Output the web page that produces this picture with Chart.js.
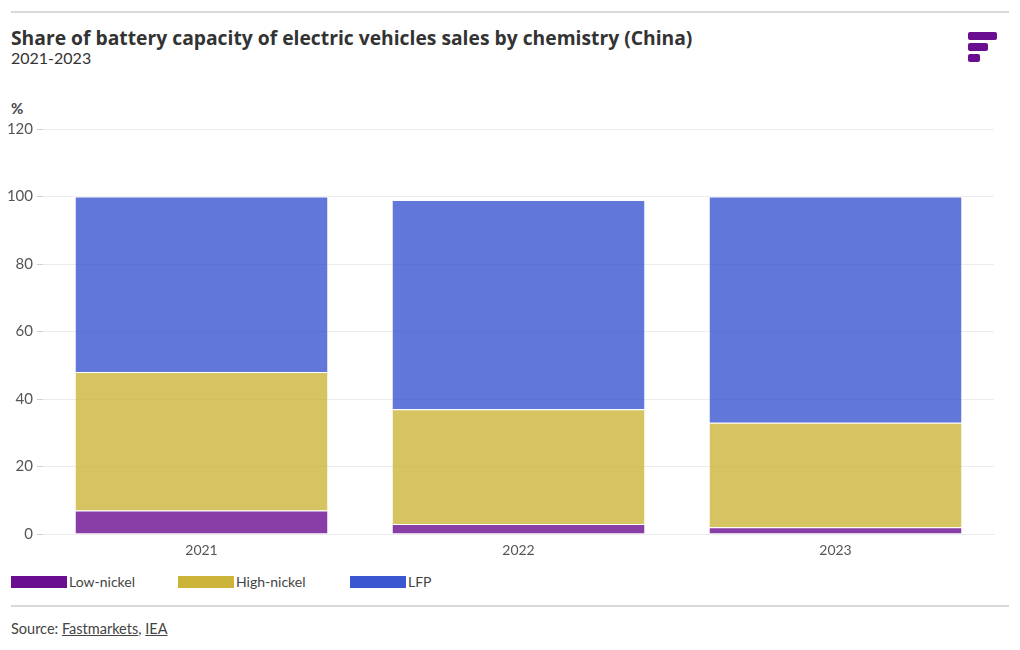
<!DOCTYPE html>
<html>
<head>
<meta charset="utf-8">
<script src="https://cdn.jsdelivr.net/npm/chart.js@4"></script>
<style>
  body { margin: 0; width: 1020px; height: 650px; background: #fff; font-family: Lato, sans-serif; color: #333; position: relative; overflow: hidden; }
  .rule { position: absolute; left: 11px; width: 998px; height: 2px; background: #d9d9d9; }
  #title { position: absolute; left: 11px; top: 24px; font-family: "Open Sans", sans-serif; font-size: 19.3px; font-weight: bold; color: #333; }
  #sub { position: absolute; left: 11px; top: 48px; font-size: 16px; color: #333; }
  #unit { position: absolute; left: 11px; top: 99px; font-size: 15px; font-weight: bold; color: #444; }
  #logo { position: absolute; left: 968px; top: 32px; }
  #logo div { height: 8px; border-radius: 2px; background: #6a0d91; margin-bottom: 3px; }
  #chartBox { position: absolute; left: 0; top: 116px; width: 1010px; height: 448px; }
  #legend { position: absolute; left: 11px; top: 573px; font-size: 14px; color: #444; }
  #legend span.item { position: absolute; white-space: nowrap; top: 0; }
  #legend i { display: inline-block; width: 56px; height: 12px; vertical-align: -1px; margin-right: 2px; }
  #source { position: absolute; left: 11px; top: 620px; font-size: 14.5px; color: #444; }
  #source u { text-decoration: underline; }
</style>
</head>
<body>
<div class="rule" style="top:11px"></div>
<div id="title">Share of battery capacity of electric vehicles sales by chemistry (China)</div>
<div id="sub">2021-2023</div>
<div id="logo"><div style="width:29px"></div><div style="width:20px"></div><div style="width:12px"></div></div>
<div id="unit">%</div>
<div id="chartBox"><canvas id="chart"></canvas></div>
<div id="legend"></div>
<div class="rule" style="top:605px"></div>
<div id="source">Source: <u>Fastmarkets</u>, <u>IEA</u></div>
<script>
var years = ["2021", "2022", "2023"];
var lowNickel = [7, 3, 2];
var highNickel = [41, 34, 31];
var lfp = [52, 62, 67];
var seriesNames = ["Low-nickel", "High-nickel", "LFP"];
var seriesColors = ["#6a0d91", "#ccb43a", "#3a56d1"];
var barColors = ["rgba(106, 13, 145, 0.8)", "rgba(204, 180, 58, 0.8)", "rgba(58, 86, 209, 0.8)"];
var yTicks = [0, 20, 40, 60, 80, 100, 120];

// legend built by hand, placed like the original
var legendX = [0, 167, 339];
var legend = document.getElementById("legend");
seriesNames.forEach(function (name, i) {
	var s = document.createElement("span");
	s.className = "item";
	s.style.left = legendX[i] + "px";
	s.innerHTML = '<i style="background:' + seriesColors[i] + '"></i>' + name;
	legend.appendChild(s);
});

var values = [lowNickel, highNickel, lfp];
var chart = new Chart(document.getElementById("chart"), {
	type: "bar",
	data: {
		labels: years,
		datasets: values.map(function (v, i) {
			return {
				label: seriesNames[i],
				data: v,
				backgroundColor: barColors[i],
				borderColor: "#ffffff",
				borderWidth: { top: 1, bottom: 0, left: 0, right: 0 },
				borderSkipped: false,
				barPercentage: 0.795,
				categoryPercentage: 1
			};
		})
	},
	options: {
		responsive: true,
		maintainAspectRatio: false,
		animation: false,
		layout: { padding: { top: 5, right: 16, left: 0, bottom: 0 } },
		plugins: { legend: { display: false }, tooltip: { enabled: false } },
		scales: {
			x: {
				stacked: true,
				grid: { display: false, drawTicks: false },
				border: { color: "#ececec" },
				ticks: { color: "#555", font: { family: "Lato", size: 14 }, padding: 8 },
				afterFit: function (s) { s.height = 30; }
			},
			y: {
				stacked: true,
				min: 0,
				max: 120,
				afterBuildTicks: function (s) { s.ticks = yTicks.map(function (v) { return { value: v }; }); },
				grid: { color: "#ececec", tickLength: 6, tickColor: "#d0d0d0" },
				border: { display: false },
				ticks: { color: "#555", font: { family: "Lato", size: 15 }, padding: 4 },
				afterFit: function (s) { s.width = 43; }
			}
		}
	}
});
</script>
</body>
</html>
